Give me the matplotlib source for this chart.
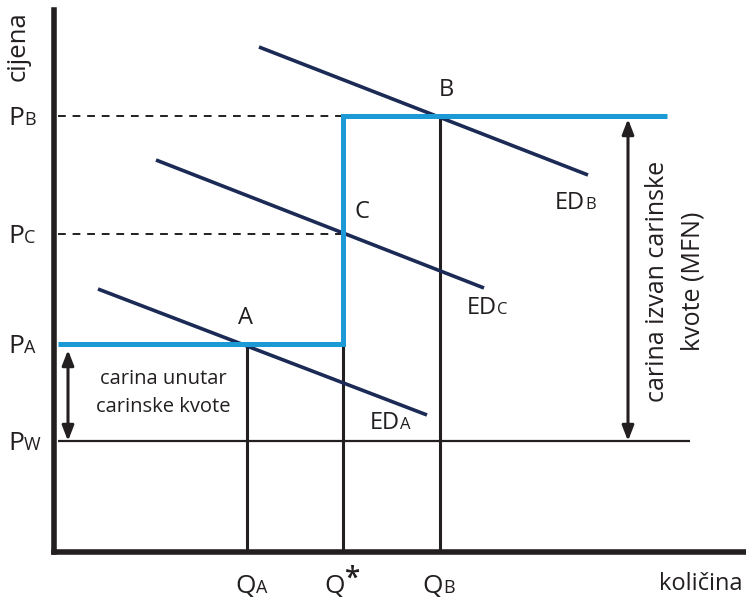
import matplotlib
matplotlib.use('Agg')
import matplotlib.pyplot as plt

plt.rcParams['font.family'] = ['Open Sans', 'DejaVu Sans']

# ---- data (economic diagram, abstract units) ----
price_names = ['B', 'C', 'A', 'W']
price_values = [436, 318, 208, 111]          # P_B, P_C, P_A, P_W
qty_names = ['A', '*', 'B']
qty_values = [192.5, 288.5, 385.5]           # Q_A, Q*, Q_B

edB_x = [204.5, 533.5]
edB_y = [505, 377]
edC_x = [101.5, 429.5]
edC_y = [392, 264]
edA_x = [43.5, 372.5]
edA_y = [263, 137]

quota_x = [3.5, 288.5, 288.5, 612.5]          # supply curve with TRQ
world_x = [3.5, 635.5]
arrow_x = [13.5, 573.5]

P_B, P_C, P_A, P_W = price_values
Q_A, Q_S, Q_B = qty_values

BLUE = '#1b9ad6'
NAVY = '#1c2b55'
BLACK = '#231f20'

fig = plt.figure(figsize=(7.46, 6.01), dpi=100)
W, H = 746, 601
ox, oy = 54.5, 552
ax = fig.add_axes([ox / W, (H - oy) / H, (W - ox) / W, (oy - 10) / H])
ax.set_xlim(0, W - ox)
ax.set_ylim(0, oy - 10)
ax.set_xticks([])
ax.set_yticks([])
for s in ['top', 'right']:
    ax.spines[s].set_visible(False)
for s in ['left', 'bottom']:
    ax.spines[s].set_linewidth(4.0)
    ax.spines[s].set_color(BLACK)
    ax.spines[s].set_zorder(10)
ax.patch.set_alpha(0)

# world price line
ax.plot(world_x, [P_W, P_W], color=BLACK, lw=1.6, solid_capstyle='butt')

# dashed price lines
for p in [P_B, P_C]:
    ax.plot([quota_x[0], Q_S], [p, p], color=BLACK, lw=1.4, dashes=(4, 3.5))

# vertical quantity lines
ax.plot([Q_A, Q_A], [0, P_A], color=BLACK, lw=2.2, solid_capstyle='butt')
ax.plot([Q_S, Q_S], [0, P_A], color=BLACK, lw=2.2, solid_capstyle='butt')
ax.plot([Q_B, Q_B], [0, P_B], color=BLACK, lw=2.2, solid_capstyle='butt')

# excess demand curves
for xs, ys in [(edB_x, edB_y), (edC_x, edC_y), (edA_x, edA_y)]:
    ax.plot(xs, ys, color=NAVY, lw=2.6, solid_capstyle='butt', zorder=4)

# supply with tariff-rate quota
ax.plot(quota_x, [P_A, P_A, P_B, P_B], color=BLUE, lw=3.6,
        solid_joinstyle='miter', solid_capstyle='butt', zorder=5)

# arrows
arrow_kw = dict(arrowstyle='<|-|>,head_length=0.9,head_width=0.35',
                color=BLACK, lw=2.2, shrinkA=0, shrinkB=0)
ax.annotate('', xy=(arrow_x[0], P_A - 6), xytext=(arrow_x[0], P_W), arrowprops=arrow_kw)
ax.annotate('', xy=(arrow_x[1], P_B - 3), xytext=(arrow_x[1], P_W), arrowprops=arrow_kw)

# point labels
ax.text(391.5, 462, 'B', fontsize=17, ha='center', va='center', color=BLACK)
ax.text(307.5, 340, 'C', fontsize=17, ha='center', va='center', color=BLACK)
ax.text(190.5, 234, 'A', fontsize=17, ha='center', va='center', color=BLACK)


def sub_label(x, y, main, sub, fs_main, fs_sub, dx_sub=0):
    ax.text(x, y, main, fontsize=fs_main, ha='right', va='baseline',
            color=BLACK, clip_on=False)
    ax.annotate(sub, xy=(x, y), xytext=(dx_sub, 0), textcoords='offset pixels',
                fontsize=fs_sub, ha='left', va='baseline', color=BLACK,
                annotation_clip=False)


# ED labels
sub_label(530.5, 343, 'ED', 'B', 17, 12, 0)
sub_label(442.5, 238, 'ED', 'C', 17, 12, 0)
sub_label(345.5, 123, 'ED', 'A', 17, 12, 0)

# price axis labels
for name, p in zip(price_names, price_values):
    sub_label(-30.5, p - 9, 'P', name, 19, 13)

# quantity axis labels
qx = [201.5, 290.5, 388.5]
for name, q, bx in zip(qty_names, qty_values, qx):
    if name == '*':
        ax.text(bx, -41, 'Q', fontsize=19, ha='right', va='baseline', color=BLACK, clip_on=False)
        ax.text(bx + 0.5, -35, '*', fontsize=20, ha='left', va='baseline', color=BLACK,
                fontweight='semibold', clip_on=False)
    else:
        sub_label(bx, -41, 'Q', name, 19, 13)

# descriptive texts
ax.text(108.5, 159, 'carina unutar\ncarinske kvote', fontsize=14.5, ha='center',
        va='center', color=BLACK, linespacing=1.6)
ax.text(621, 271, 'carina izvan carinske\nkvote (MFN)', fontsize=18, ha='center',
        va='center', rotation=90, color=BLACK, linespacing=1.55)
ax.text(-36.5, 506, 'cijena', fontsize=18.5, ha='center', va='center', rotation=90,
        color=BLACK, clip_on=False)
ax.text(604.5, -32, 'količina', fontsize=17, ha='left', va='center',
        color=BLACK, clip_on=False)

fig.savefig('out.png', dpi=100)
